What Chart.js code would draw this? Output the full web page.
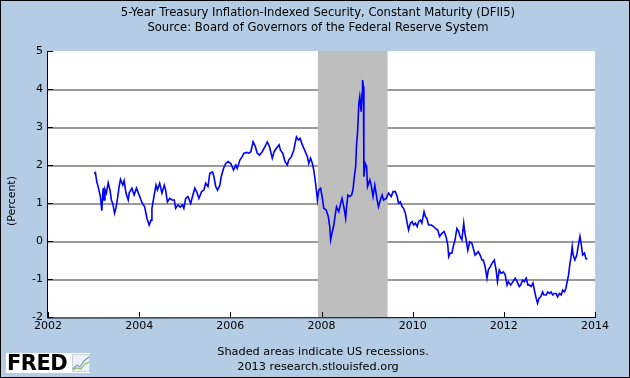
<!DOCTYPE html>
<html>
<head>
<meta charset="utf-8">
<title>DFII5</title>
<script src="https://cdn.jsdelivr.net/npm/chart.js@4.4.1/dist/chart.umd.min.js"></script>
<style>
    body { margin: 0; }
    #frame {
        position: relative;
        width: 630px;
        height: 378px;
        background: #b4cde4;
        font-family: "DejaVu Sans", Verdana, sans-serif;
        color: #000;
        overflow: hidden;
    }
    #frame canvas { position: absolute; left: 0; top: 0; }
    .line {
        position: absolute;
        left: 0;
        width: 636px;
        text-align: center;
        font-size: 11.6px;
        line-height: 14px;
        white-space: nowrap;
    }
    .foot { font-size: 11.3px; }
    #ytitle {
        position: absolute;
        left: -38px;
        top: 194px;
        width: 100px;
        text-align: center;
        font-size: 11px;
        line-height: 14px;
        transform: rotate(-90deg);
    }
    #logo {
        position: absolute;
        left: 6px;
        top: 353px;
        width: 84px;
        height: 20px;
        background: #fff;
    }
    #logo span {
        position: absolute;
        left: 1px;
        top: -3px;
        font-family: "DejaVu Sans", sans-serif;
        font-weight: bold;
        font-size: 21px;
        line-height: 26px;
        letter-spacing: -0.5px;
    }
    #logo svg { position: absolute; left: 66px; top: 1px; }
    #border {
        position: absolute;
        left: 0; top: 0; right: 0; bottom: 0;
        border: 1px solid #000;
        pointer-events: none;
    }
</style>
</head>
<body>
<div id="frame">
    <canvas id="rateChart" width="630" height="378"></canvas>
    <div class="line" style="top:5px">5-Year Treasury Inflation-Indexed Security, Constant Maturity (DFII5)</div>
    <div class="line" style="top:20px">Source: Board of Governors of the Federal Reserve System</div>
    <div id="ytitle">(Percent)</div>
    <div class="line foot" style="top:345px; width:646px">Shaded areas indicate US recessions.</div>
    <div class="line foot" style="top:360px">2013 research.stlouisfed.org</div>
    <div id="logo">
        <span>FRED</span>
        <svg width="18" height="18" viewBox="0 0 18 18">
            <rect x="0.5" y="0.5" width="17" height="17" fill="#eef2f6" stroke="#c8d0d8"/>
            <polyline points="1,15 5,11 8,13 12,7 17,3" fill="none" stroke="#7a9cc0" stroke-width="1.2"/>
            <polyline points="1,16 5,14 9,15 13,10 17,8" fill="none" stroke="#8cbf5a" stroke-width="1.2"/>
        </svg>
    </div>
    <div id="border"></div>
</div>

<script>
// Axis ticks
const yearTicks = [2002, 2004, 2006, 2008, 2010, 2012, 2014];
const percentTicks = [-2, -1, 0, 1, 2, 3, 4, 5];

// Recession (Dec 2007 - Jun 2009) in decimal years
const recessionStart = 2007.92;
const recessionEnd = 2009.45;

// DFII5 (decimal year, percent)
const years = [
    2003.01, 2003.04, 2003.07, 2003.10, 2003.15, 2003.18, 2003.21, 2003.23, 2003.25, 2003.28, 2003.32, 2003.36, 2003.39, 2003.42, 2003.46,
    2003.49, 2003.53, 2003.56, 2003.59, 2003.64, 2003.67, 2003.71, 2003.76, 2003.78, 2003.84, 2003.89, 2003.94, 2004.00, 2004.04, 2004.07,
    2004.12, 2004.17, 2004.22, 2004.26, 2004.28, 2004.33, 2004.37, 2004.40, 2004.45, 2004.50, 2004.55, 2004.58, 2004.62, 2004.67, 2004.72,
    2004.77, 2004.80, 2004.85, 2004.90, 2004.95, 2004.98, 2005.02, 2005.07, 2005.13, 2005.17, 2005.22, 2005.26, 2005.31,
    2005.37, 2005.42, 2005.46, 2005.51, 2005.55, 2005.61, 2005.64, 2005.68, 2005.72, 2005.77, 2005.80, 2005.85, 2005.90,
    2005.95, 2006.01, 2006.07, 2006.12, 2006.15, 2006.21, 2006.26, 2006.30, 2006.36, 2006.41, 2006.45, 2006.50, 2006.55,
    2006.59, 2006.64, 2006.70, 2006.76, 2006.81, 2006.86, 2006.92, 2006.96, 2007.01, 2007.07, 2007.10, 2007.15, 2007.20,
    2007.25, 2007.28, 2007.34, 2007.39, 2007.45, 2007.49, 2007.53, 2007.58, 2007.63, 2007.69, 2007.72, 2007.76, 2007.80,
    2007.83, 2007.87, 2007.91, 2007.94, 2007.98, 2008.02, 2008.05, 2008.10, 2008.15, 2008.18, 2008.20, 2008.23, 2008.27,
    2008.30, 2008.33, 2008.38, 2008.42, 2008.45, 2008.49, 2008.53, 2008.55, 2008.58, 2008.62, 2008.66, 2008.69, 2008.72,
    2008.75, 2008.77, 2008.79, 2008.82, 2008.84, 2008.87, 2008.89, 2008.90, 2008.92, 2008.93, 2008.96, 2008.99, 2009.01,
    2009.06, 2009.09, 2009.13, 2009.17, 2009.22, 2009.25, 2009.29, 2009.33, 2009.36, 2009.42, 2009.47, 2009.53, 2009.57,
    2009.62, 2009.66, 2009.69, 2009.73, 2009.77, 2009.80, 2009.84, 2009.88, 2009.91, 2009.95, 2009.99, 2010.02, 2010.06, 2010.10,
    2010.13, 2010.17, 2010.20, 2010.25, 2010.28, 2010.31, 2010.35, 2010.41, 2010.46, 2010.50, 2010.55, 2010.59, 2010.64, 2010.69,
    2010.73, 2010.77, 2010.79, 2010.82, 2010.86, 2010.90, 2010.93, 2010.97, 2011.01, 2011.04, 2011.08, 2011.12, 2011.14, 2011.18,
    2011.21, 2011.25, 2011.30, 2011.34, 2011.37, 2011.41, 2011.44, 2011.48, 2011.52, 2011.55, 2011.59, 2011.63, 2011.66,
    2011.70, 2011.74, 2011.79, 2011.83, 2011.86, 2011.90, 2011.94, 2011.99, 2012.03, 2012.07, 2012.10, 2012.15, 2012.20, 2012.25, 2012.29,
    2012.34, 2012.37, 2012.41, 2012.45, 2012.49, 2012.53, 2012.56, 2012.60, 2012.64, 2012.67, 2012.71, 2012.74, 2012.77, 2012.81, 2012.85,
    2012.88, 2012.93, 2012.96, 2013.00, 2013.04, 2013.07, 2013.11, 2013.15, 2013.18, 2013.22, 2013.26, 2013.29, 2013.33, 2013.36, 2013.39,
    2013.42, 2013.45, 2013.47, 2013.50, 2013.52, 2013.56, 2013.60, 2013.63, 2013.67, 2013.70, 2013.73, 2013.77, 2013.80, 2013.83
];

const rates = [
    1.78, 1.80, 1.56, 1.43, 1.17, 0.80, 1.39, 1.08, 1.36, 1.26, 1.53, 1.34, 1.08, 0.99, 0.73,
    0.86, 1.17, 1.43, 1.62, 1.47, 1.59, 1.26, 1.08, 1.26, 1.39, 1.21, 1.39, 1.21, 1.08, 0.99,
    0.90, 0.60, 0.42, 0.55, 0.86, 1.21, 1.47, 1.34, 1.52, 1.26, 1.47, 1.34, 1.03, 1.12, 1.08,
    1.08, 0.86, 0.95, 0.89, 0.95, 0.86, 1.12, 1.17, 0.99, 1.17, 1.39, 1.30, 1.12,
    1.30, 1.34, 1.52, 1.43, 1.78, 1.82, 1.69, 1.43, 1.34, 1.47, 1.69, 1.91, 2.04,
    2.09, 2.04, 1.87, 2.00, 1.91, 2.13, 2.22, 2.31, 2.33, 2.31, 2.35, 2.61, 2.48,
    2.31, 2.26, 2.35, 2.48, 2.61, 2.48, 2.18, 2.35, 2.44, 2.53, 2.39, 2.31, 2.09,
    2.00, 2.13, 2.22, 2.39, 2.74, 2.66, 2.70, 2.53, 2.39, 2.22, 2.04, 2.18, 2.04,
    1.87, 1.52, 1.08, 1.34, 1.39, 1.12, 0.86, 0.82, 0.64, 0.38, 0.03, 0.20, 0.42,
    0.68, 0.90, 0.77, 0.99, 1.12, 0.90, 0.60, 0.90, 1.21, 1.17, 1.21, 1.34, 1.69,
    1.96, 2.57, 2.83, 3.62, 3.80, 3.40, 3.89, 4.24, 4.06, 1.69, 2.04, 1.96, 1.43,
    1.61, 1.47, 1.17, 1.47, 1.08, 0.90, 1.08, 1.21, 1.08, 1.12, 1.26, 1.17, 1.30,
    1.30, 1.17, 0.99, 1.03, 0.90, 0.86, 0.73, 0.47, 0.29, 0.47, 0.51, 0.42, 0.47, 0.38,
    0.51, 0.55, 0.47, 0.77, 0.64, 0.60, 0.42, 0.42, 0.38, 0.33, 0.29, 0.12, 0.20, 0.25,
    0.12, -0.10, -0.41, -0.32, -0.32, -0.10, 0.03, 0.33, 0.25, 0.12, 0.03, 0.47, 0.25, -0.02,
    -0.24, -0.02, -0.06, -0.24, -0.37, -0.32, -0.28, -0.37, -0.50, -0.50, -0.68, -0.98, -0.76,
    -0.68, -0.59, -0.50, -0.76, -1.07, -0.76, -0.85, -0.81, -0.89, -1.16, -1.07, -1.16, -1.07, -0.98, -1.07,
    -1.20, -1.16, -1.03, -1.07, -0.98, -1.16, -1.16, -1.20, -1.11, -1.29, -1.51, -1.64, -1.51, -1.47, -1.34,
    -1.42, -1.42, -1.34, -1.38, -1.34, -1.42, -1.38, -1.38, -1.47, -1.38, -1.42, -1.29, -1.34, -1.25, -1.07,
    -0.89, -0.59, -0.46, -0.15, -0.37, -0.50, -0.37, -0.15, 0.12, -0.10, -0.37, -0.32, -0.46, -0.48
];

let points = [];
for (let i = 0; i < Math.min(years.length, rates.length); i++) {
    points.push({ x: years[i], y: rates[i] });
}

// Paint the plot background, gridlines and recession band behind the line, then black axes on top
function drawBackdrop(chart) {
    const ctx = chart.ctx;
    const area = chart.chartArea;
    const h = area.bottom - area.top;

    ctx.save();
    ctx.globalCompositeOperation = "destination-over";

    // recession band first so it ends up above the gridlines
    let x0 = chart.scales.x.getPixelForValue(recessionStart);
    let x1 = chart.scales.x.getPixelForValue(recessionEnd);
    ctx.fillStyle = "#bebebe";
    ctx.fillRect(x0, area.top, x1 - x0, h);

    ctx.fillStyle = "#9a9a9a";
    for (let i = 1; i < percentTicks.length - 1; i++) {
        let y = Math.round(chart.scales.y.getPixelForValue(percentTicks[i]));
        ctx.fillRect(area.left, y, area.right - area.left, 2);
    }

    ctx.fillStyle = "#ffffff";
    ctx.fillRect(area.left, area.top, area.right - area.left, h);
    ctx.restore();
}

const fredLook = {
    id: "fredLook",
    afterDatasetsDraw(chart) {
        drawBackdrop(chart);

        const { ctx, chartArea, scales } = chart;
        ctx.save();
        ctx.strokeStyle = "#000";
        ctx.lineWidth = 1;
        ctx.beginPath();
        // axes
        ctx.moveTo(chartArea.left - 0.5, chartArea.top);
        ctx.lineTo(chartArea.left - 0.5, chartArea.bottom + 1);
        ctx.lineTo(chartArea.right + 1, chartArea.bottom + 0.5);
        // tick marks pointing into the plot
        percentTicks.forEach(v => {
            let y = Math.round(scales.y.getPixelForValue(v)) + 0.5;
            ctx.moveTo(chartArea.left, y);
            ctx.lineTo(chartArea.left + 5, y);
        });
        yearTicks.forEach(v => {
            let x = Math.round(scales.x.getPixelForValue(v)) + 0.5;
            ctx.moveTo(x, chartArea.bottom);
            ctx.lineTo(x, chartArea.bottom - 5);
        });
        ctx.stroke();
        ctx.restore();
    }
};

const tickFont = { family: "'DejaVu Sans', Verdana, sans-serif", size: 11 };

new Chart(document.getElementById("rateChart"), {
    type: "line",
    data: {
        datasets: [{
            label: "DFII5",
            data: points,
            borderColor: "#0000ff",
            borderWidth: 1.6,
            pointRadius: 0,
            tension: 0,
            fill: false
        }]
    },
    options: {
        responsive: false,
        animation: false,
        devicePixelRatio: 1,
        layout: { padding: { left: 0, right: 35, top: 51, bottom: 41 } },
        plugins: {
            legend: { display: false },
            tooltip: { enabled: false }
        },
        scales: {
            x: {
                type: "linear",
                min: yearTicks[0],
                max: yearTicks[yearTicks.length - 1],
                afterBuildTicks: scale => { scale.ticks = yearTicks.map(v => ({ value: v })); },
                afterFit: scale => { scale.height = 20; },
                grid: { display: false, drawTicks: false },
                border: { display: false },
                ticks: {
                    color: "#000",
                    font: tickFont,
                    padding: 3,
                    maxRotation: 0,
                    callback: v => String(v)
                }
            },
            y: {
                min: percentTicks[0],
                max: percentTicks[percentTicks.length - 1],
                afterBuildTicks: scale => { scale.ticks = percentTicks.map(v => ({ value: v })); },
                afterFit: scale => { scale.width = 48; },
                grid: { display: false, drawTicks: false },
                border: { display: false },
                ticks: {
                    color: "#000",
                    font: tickFont,
                    padding: 5,
                    callback: v => String(v)
                }
            }
        }
    },
    plugins: [fredLook]
});
</script>
</body>
</html>
